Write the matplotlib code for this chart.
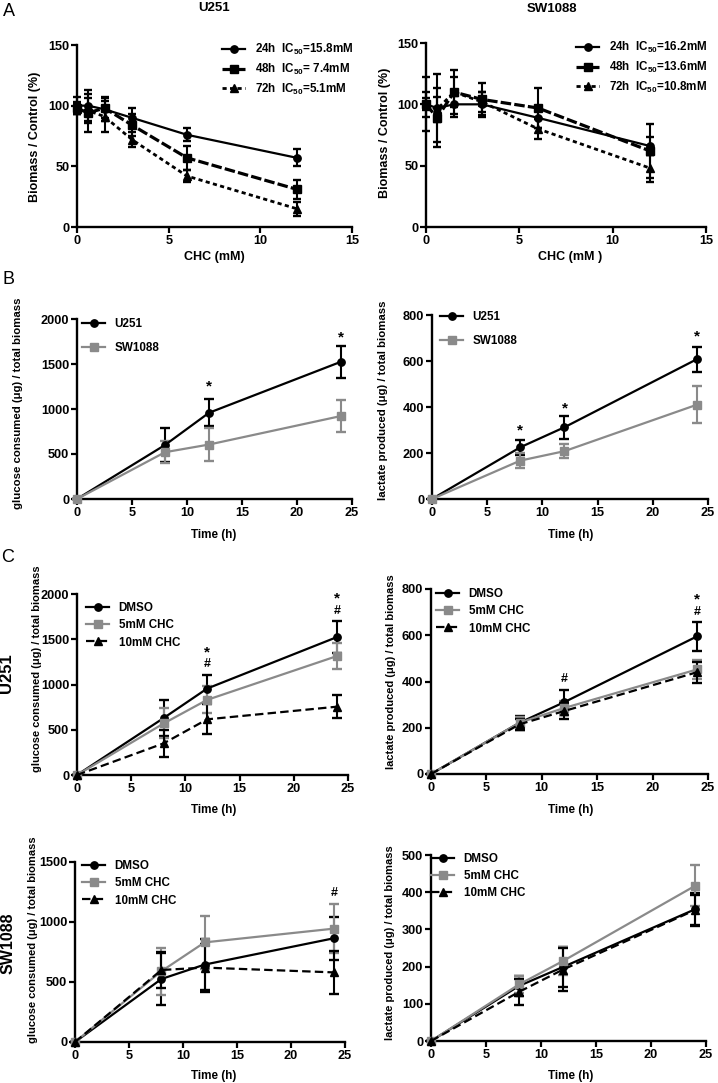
import matplotlib
matplotlib.use('Agg')
from matplotlib import pyplot as plt

plt.rcParams['font.family'] = ['Liberation Sans', 'DejaVu Sans']
plt.rcParams['font.weight'] = 'bold'
plt.rcParams['mathtext.fontset'] = 'custom'
plt.rcParams['mathtext.rm'] = 'Liberation Sans:bold'
plt.rcParams['mathtext.bf'] = 'Liberation Sans:bold'
plt.rcParams['mathtext.it'] = 'Liberation Sans:bold'

# ---- data ----------------------------------------------------------------
chc_dose = [0, 0.6, 1.5, 3, 6, 12]
time_h = [0, 8, 12, 24]

# A: biomass vs CHC dose
u251_24h = [100, 100, 97, 90, 76, 57]
u251_24h_err = [7, 13, 10, 8, 5.5, 7]
u251_48h = [98, 94, 98, 84, 57, 31]
u251_48h_err = [5, 16, 8, 9, 10, 8]
u251_72h = [97, 96, 91, 72, 42, 15]
u251_72h_err = [4, 10, 13, 6, 5, 6]

sw_24h = [100, 97, 100, 100, 89, 66]
sw_24h_err = [22, 28, 10, 10, 8, 7]
sw_48h = [100, 89, 110, 104, 97, 62]
sw_48h_err = [10, 24, 18, 13, 16, 22]
sw_72h = [100, 96, 110, 102, 80, 48]
sw_72h_err = [5, 10, 12, 8, 8, 11]

# B: U251 vs SW1088
b_glu_u251 = [0, 600, 958, 1525]
b_glu_u251_err = [0, 185, 150, 180]
b_glu_sw = [0, 520, 605, 922]
b_glu_sw_err = [0, 120, 185, 180]
b_lac_u251 = [0, 225, 312, 608]
b_lac_u251_err = [0, 32, 50, 54]
b_lac_sw = [0, 167, 208, 410]
b_lac_sw_err = [0, 32, 30, 81]

# C: DMSO / 5mM / 10mM CHC
c_u_glu_dmso = [0, 630, 955, 1525]
c_u_glu_dmso_err = [0, 195, 155, 175]
c_u_glu_5 = [0, 570, 830, 1315]
c_u_glu_5_err = [0, 165, 150, 145]
c_u_glu_10 = [0, 350, 615, 755]
c_u_glu_10_err = [0, 150, 165, 125]

c_u_lac_dmso = [0, 222, 310, 595]
c_u_lac_dmso_err = [0, 30, 55, 62]
c_u_lac_5 = [0, 222, 285, 452]
c_u_lac_5_err = [0, 25, 30, 40]
c_u_lac_10 = [0, 215, 272, 440]
c_u_lac_10_err = [0, 25, 35, 45]

c_s_glu_dmso = [0, 525, 645, 865]
c_s_glu_dmso_err = [0, 220, 215, 180]
c_s_glu_5 = [0, 590, 830, 945]
c_s_glu_5_err = [0, 195, 220, 205]
c_s_glu_10 = [0, 600, 620, 580]
c_s_glu_10_err = [0, 150, 200, 180]

c_s_lac_dmso = [0, 148, 199, 354]
c_s_lac_dmso_err = [0, 28, 55, 45]
c_s_lac_5 = [0, 152, 215, 417]
c_s_lac_5_err = [0, 22, 38, 55]
c_s_lac_10 = [0, 132, 192, 352]
c_s_lac_10_err = [0, 35, 57, 40]

GRAY = '#8a8a8a'
W, H = 718, 1083
fig = plt.figure(figsize=(W / 100, H / 100), dpi=100)


def box(l, t, r, b):
    return fig.add_axes([l / W, 1 - b / H, (r - l) / W, (b - t) / H])


def style(ax, xmax, xstep, ymax, ystep, fs=9.2):
    ax.set_xlim(0, xmax)
    ax.set_ylim(0, ymax)
    ax.set_xticks(range(0, xmax + 1, xstep))
    ax.set_yticks(range(0, ymax + 1, ystep))
    for s in ['top', 'right']:
        ax.spines[s].set_visible(False)
    for s in ['left', 'bottom']:
        ax.spines[s].set_linewidth(1.7)
    ax.tick_params(direction='out', length=4, width=1.6, labelsize=fs, pad=1.5)
    for lab in ax.get_xticklabels() + ax.get_yticklabels():
        lab.set_fontweight('bold')


def series(ax, x, y, e, label, color='black', ls='-', lw=1.6, marker='o',
           ms=5.3, dashes=None, cap=3.5):
    kw = dict(color=color, lw=lw, marker=marker, ms=ms, label=label,
              clip_on=False, zorder=3)
    if dashes is not None:
        kw['dashes'] = dashes
    else:
        kw['ls'] = ls
    ax.plot(x, y, **kw)
    eb = ax.errorbar(x, y, yerr=e, fmt='none', ecolor=color, elinewidth=1.5,
                     capsize=cap, capthick=1.7, zorder=2)
    for a in eb.lines[1] + eb.lines[2]:
        a.set_clip_on(False)


def legend(ax, px, py, spacing, hl=2.0, fs=8.4):
    # px, py: top-left of legend in figure pixels
    ax.legend(loc='upper left', bbox_to_anchor=(px / W, 1 - py / H),
              bbox_transform=fig.transFigure, frameon=False, fontsize=fs,
              handlelength=hl, handletextpad=0.8, labelspacing=spacing,
              borderpad=0, borderaxespad=0, numpoints=1)


def label(x, y, s, fs=8.4, rot=0, weight='bold'):
    fig.text(x / W, 1 - y / H, s, fontsize=fs, rotation=rot, ha='center',
             va='center', fontweight=weight)


def mark(ax, x, y, s, fs=10):
    ax.text(x, y, s, ha='center', va='center', fontsize=fs, fontweight='bold')


# ---- A ------------------------------------------------------------------
ax = box(77, 45, 352, 227)
style(ax, 15, 5, 150, 50)
series(ax, chc_dose, u251_24h, u251_24h_err, r'24h  IC$_{50}$=15.8mM', cap=3)
series(ax, chc_dose, u251_48h, u251_48h_err, r'48h  IC$_{50}$= 7.4mM',
       marker='s', lw=2.3, dashes=(3.3, 1.0), cap=3)
series(ax, chc_dose, u251_72h, u251_72h_err, r'72h  IC$_{50}$=5.1mM',
       marker='^', lw=2.0, dashes=(1.5, 1.2), cap=3)
legend(ax, 222, 42, 0.4)

ax = box(426, 43, 706, 227)
style(ax, 15, 5, 150, 50)
series(ax, chc_dose, sw_24h, sw_24h_err, r'24h  IC$_{50}$=16.2mM', cap=3)
series(ax, chc_dose, sw_48h, sw_48h_err, r'48h  IC$_{50}$=13.6mM',
       marker='s', lw=2.3, dashes=(3.3, 1.0), cap=3)
series(ax, chc_dose, sw_72h, sw_72h_err, r'72h  IC$_{50}$=10.8mM',
       marker='^', lw=2.0, dashes=(1.5, 1.2), cap=3)
legend(ax, 576, 40, 0.4)

label(9, 12, 'A', fs=13, weight='normal')
label(214, 8, 'U251', fs=9.5)
label(552, 9, 'SW1088', fs=9.5)
label(214, 257, 'CHC (mM)', fs=9)
label(570, 257, 'CHC (mM )', fs=9)
label(35, 137, 'Biomass / Control (%)', fs=9, rot=90)
label(385, 133, 'Biomass / Control (%)', fs=9, rot=90)

# ---- B ------------------------------------------------------------------
ax = box(77, 319, 352, 499)
style(ax, 25, 5, 2000, 500)
series(ax, time_h, b_glu_u251, b_glu_u251_err, 'U251')
series(ax, time_h, b_glu_sw, b_glu_sw_err, 'SW1088', color=GRAY, marker='s')
legend(ax, 82, 318, 1.0)
mark(ax, 12, 1250, '*', fs=11)
mark(ax, 24, 1800, '*', fs=11)

ax = box(432, 315, 708, 499)
style(ax, 25, 5, 800, 200)
series(ax, time_h, b_lac_u251, b_lac_u251_err, 'U251')
series(ax, time_h, b_lac_sw, b_lac_sw_err, 'SW1088', color=GRAY, marker='s')
legend(ax, 440, 311, 1.0)
mark(ax, 8, 300, '*', fs=11)
mark(ax, 12, 394, '*', fs=11)
mark(ax, 24, 708, '*', fs=11)

label(8, 279, 'B', fs=13, weight='normal')
label(214, 535, 'Time (h)')
label(571, 535, 'Time (h)')
label(18, 403, 'glucose consumed (μg) / total biomass', rot=90, fs=8.2)
label(383, 400, 'lactate produced (μg) / total biomass', rot=90, fs=8.2)

# ---- C ------------------------------------------------------------------
def three(ax, a, ae, b, be, c, ce):
    series(ax, time_h, a, ae, 'DMSO')
    series(ax, time_h, b, be, '5mM CHC', color=GRAY, marker='s')
    series(ax, time_h, c, ce, '10mM CHC', marker='^', dashes=(3.8, 1.9))


ax = box(77, 594, 348, 775)
style(ax, 25, 5, 2000, 500)
three(ax, c_u_glu_dmso, c_u_glu_dmso_err, c_u_glu_5, c_u_glu_5_err,
      c_u_glu_10, c_u_glu_10_err)
legend(ax, 86, 602, 0.45)
mark(ax, 12, 1358, '*', fs=11)
mark(ax, 12, 1225, '#', fs=9)
mark(ax, 24, 1948, '*', fs=11)
mark(ax, 24, 1815, '#', fs=9)

ax = box(431, 589, 708, 774)
style(ax, 25, 5, 800, 200)
three(ax, c_u_lac_dmso, c_u_lac_dmso_err, c_u_lac_5, c_u_lac_5_err,
      c_u_lac_10, c_u_lac_10_err)
legend(ax, 436, 588, 0.45)
mark(ax, 12, 410, '#', fs=9)
mark(ax, 24, 754, '*', fs=11)
mark(ax, 24, 699, '#', fs=9)

ax = box(75, 862, 345, 1042)
style(ax, 25, 5, 1500, 500)
three(ax, c_s_glu_dmso, c_s_glu_dmso_err, c_s_glu_5, c_s_glu_5_err,
      c_s_glu_10, c_s_glu_10_err)
legend(ax, 82, 860, 0.45)
mark(ax, 24, 1245, '#', fs=9)

ax = box(431, 855, 706, 1041)
style(ax, 25, 5, 500, 100)
three(ax, c_s_lac_dmso, c_s_lac_dmso_err, c_s_lac_5, c_s_lac_5_err,
      c_s_lac_10, c_s_lac_10_err)
legend(ax, 431, 853, 0.45)

label(8, 557, 'C', fs=13, weight='normal')
label(6, 673, 'U251', fs=12, rot=90)
label(8, 943, 'SW1088', fs=11.5, rot=90)
label(214, 810, 'Time (h)')
label(571, 810, 'Time (h)')
label(214, 1076, 'Time (h)')
label(571, 1076, 'Time (h)')
label(37, 669, 'glucose consumed (μg) / total biomass', fs=8, rot=90)
label(391, 672, 'lactate produced (μg) / total biomass', fs=8, rot=90)
label(33, 940, 'glucose consumed (μg) / total biomass', fs=8, rot=90)
label(390, 943, 'lactate produced (μg) / total biomass', fs=8, rot=90)

plt.savefig('out.png', dpi=100)
